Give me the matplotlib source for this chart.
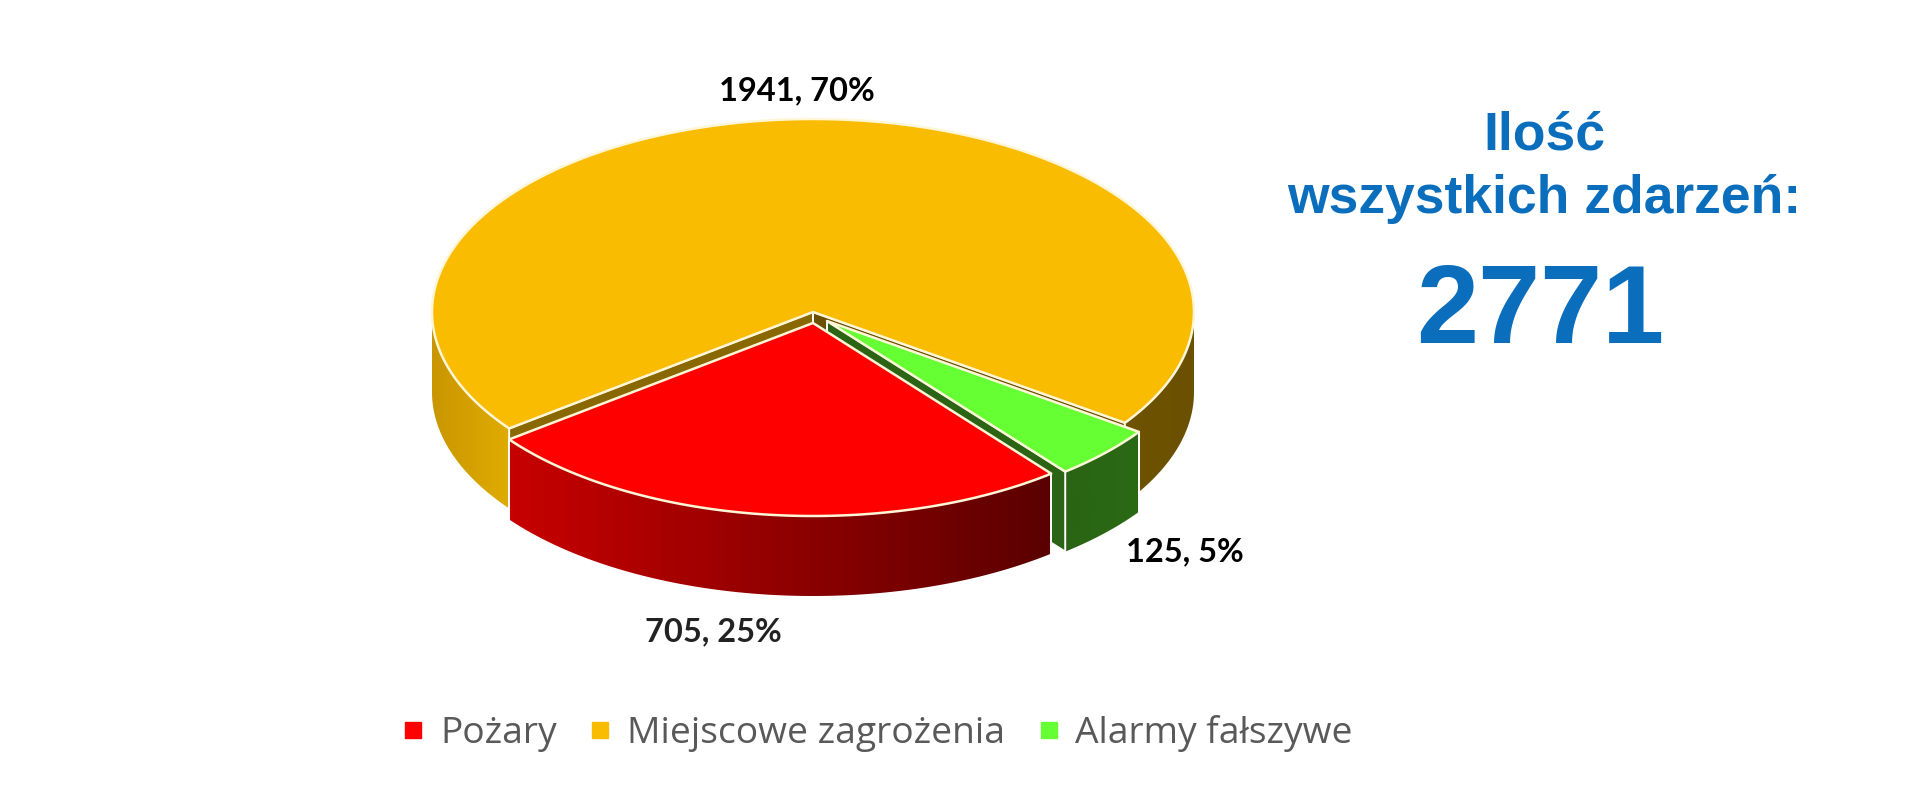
import numpy as np
import matplotlib
matplotlib.use("Agg")
import matplotlib.pyplot as plt
from matplotlib.patches import Polygon
from matplotlib.lines import Line2D
from matplotlib.colors import LinearSegmentedColormap

# data
categories = ["Pożary", "Miejscowe zagrożenia", "Alarmy fałszywe"]
values = [705, 1941, 125]
percents = [25, 70, 5]
total = 2771

# pie shape, in pixels
start = 51.3  # degrees clockwise on screen
rx, ry = 381, 193
depth = 80
centers = [(813, 323), (813, 312), (827, 321)]
top_colors = ["#FF0000", "#FABC00", "#66FF33"]
label_pos = [(713, 632), (797, 91), (1185, 552)]

fig = plt.figure(figsize=(19.2, 8.1), dpi=100)
ax = fig.add_axes([0, 0, 1, 1])
ax.set_xlim(0, 1920)
ax.set_ylim(810, 0)
ax.axis("off")

# angles of the slices
angles = [start]
for v in values:
    angles.append(angles[-1] + v / sum(values) * 360)


def arc(c, a1, a2, dy=0):
    t = np.radians(np.linspace(a1, a2, 200))
    return np.column_stack([c[0] + rx * np.cos(t), c[1] + dy + ry * np.sin(t)])


def wall(c, a1, a2, colors, z):
    # outer side of a slice, with a left to right gradient
    pts = np.vstack([arc(c, a1, a2), arc(c, a2, a1, depth)])
    poly = Polygon(pts, closed=True, fc="none", ec="none", zorder=z)
    ax.add_patch(poly)
    cmap = LinearSegmentedColormap.from_list("w", colors)
    x0, x1 = pts[:, 0].min(), pts[:, 0].max()
    im = ax.imshow(np.linspace(0, 1, 256).reshape(1, -1), cmap=cmap, aspect="auto",
                   extent=[x0, x1, pts[:, 1].max(), pts[:, 1].min()], zorder=z)
    im.set_clip_path(poly)


def side(c, a, color, z):
    # inner side of a slice
    e = arc(c, a, a)[0]
    ax.add_patch(Polygon([c, e, (e[0], e[1] + depth), (c[0], c[1] + depth)], closed=True,
                         fc=color, ec="white", lw=1.4, zorder=z))


def top(c, a1, a2, color, z):
    pts = np.vstack([[c], arc(c, a1, a2)])
    ax.add_patch(Polygon(pts, closed=True, fc=color, ec="#FFF6D8", lw=1.8, joinstyle="round", zorder=z))


def vline(c, a, z):
    e = arc(c, a, a)[0]
    ax.plot([e[0], e[0]], [e[1], e[1] + depth], color="white", lw=1.4, zorder=z)


# orange slice, at the back
c = centers[1]
wall(c, angles[1], 180, ["#C99600", "#E0AC00"], 1)
wall(c, 0, angles[2] - 360, ["#6E5300", "#6A5000"], 1)
side(c, angles[1], "#8A6800", 2)
side(c, angles[2], "#6B5000", 2)
top(c, angles[1], angles[2], top_colors[1], 3)

# green slice
c = centers[2]
wall(c, angles[2] - 360, angles[3] - 360, ["#2A6414", "#2A6A14"], 4)
side(c, angles[3] - 360, "#2A6414", 5)
vline(c, angles[2] - 360, 5)
top(c, angles[2] - 360, angles[3] - 360, top_colors[2], 6)

# red slice, at the front
c = centers[0]
wall(c, angles[0], angles[1], ["#C80000", "#5A0000"], 7)
vline(c, angles[0], 8)
vline(c, angles[1], 8)
top(c, angles[0], angles[1], top_colors[0], 9)

# data labels
for v, p, pos, col in zip(values, percents, label_pos, ["#222222", "black", "black"]):
    ax.text(pos[0], pos[1], f"{v}, {p}%", fontsize=23.5, fontweight="bold", family="Lato",
            color=col, ha="center", va="center", zorder=10)

# text on the right
blue = "#0A6EBD"
ax.text(1544, 150, "Ilość", fontsize=38.5, fontweight="bold", family="Liberation Sans",
        color=blue, ha="center", va="baseline")
ax.text(1544, 213, "wszystkich zdarzeń:", fontsize=38.5, fontweight="bold", family="Liberation Sans",
        color=blue, ha="center", va="baseline")
ax.text(1540, 343, str(total), fontsize=80.5, fontweight="bold", family="Liberation Sans",
        color=blue, ha="center", va="baseline")

# legend
handles = [Line2D([], [], ls="none", marker="s", ms=12, mfc=col, mec=col) for col in top_colors]
ax.legend(handles, categories, loc="center", bbox_to_anchor=(870 / 1920, 1 - 734 / 810), ncol=3,
          frameon=False, handletextpad=0.02, columnspacing=0.47, handlelength=1.4,
          prop={"family": "Open Sans", "size": 26.8}, labelcolor="#595959")

fig.savefig("out.png", dpi=100, facecolor="white")
